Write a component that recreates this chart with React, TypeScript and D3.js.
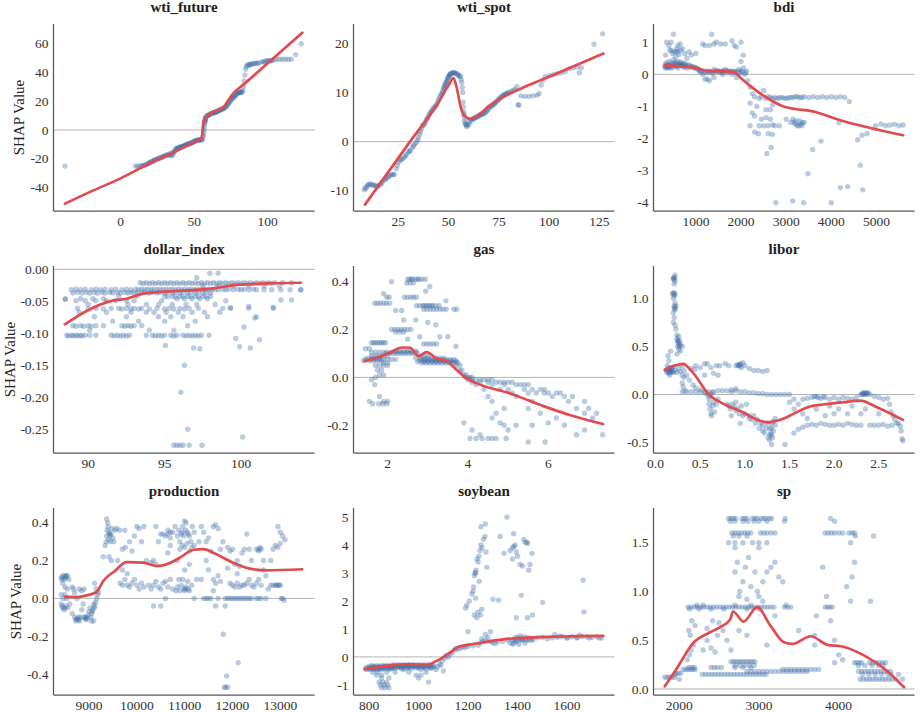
import * as d3 from 'd3';

type P = [number, number];
type Row = [number, number[]];

// ---- wti_future ----
const wtiFuturePts: P[] = [
  [-37.8, -25], [10, -25], [11.5, -25], [13, -25], [14.5, -24.8], [16, -24.5], [18, -23.5], [19, -23], [20, -22.5],
  [21, -22], [22, -21.5], [23, -21], [24, -20.5], [25, -20], [26, -19.8], [27, -19.2], [28, -18.8], [29, -18.5],
  [30, -18], [31, -17.5], [32, -17.2], [33, -17.5], [34, -16.8], [35, -16], [35.5, -17.5], [36, -15.5], [37, -14],
  [37.5, -13], [38, -13.5], [39, -12.5], [40, -12], [41, -11.8], [42, -11.5], [43, -11], [44, -10.5], [45, -10],
  [46, -9.8], [47, -9.5], [48, -9], [49, -8.5], [50, -8], [51, -7.5], [52, -7], [53, -7.2], [54, -6.8], [55, -6.5],
  [55.5, -7], [56, -5], [56.5, -2], [56.8, 2], [57, 4], [57.2, 5.5], [57.5, 7], [57.8, 8], [58, 9], [59, 10],
  [60, 10.5], [61, 11], [62, 11.5], [63, 12], [64, 12], [65, 12.5], [66, 13], [67, 13.5], [68, 14], [69, 14.5],
  [70, 15], [71, 15.5], [72, 16.5], [73, 18], [74, 19.5], [75, 21], [76, 22], [77, 23], [78, 24], [79, 25],
  [80, 26], [81, 26.5], [82, 26], [83, 27], [83.5, 30], [84, 34], [84.5, 38], [85, 42], [85.5, 44], [86, 45],
  [87, 45], [88, 45.5], [89, 45.5], [90, 46], [92, 46], [94, 46.5], [96, 47], [98, 47.5], [100, 48], [102, 48],
  [104, 48.5], [106, 49], [108, 49], [110, 49], [112, 49], [114, 49], [116, 49], [119, 52.2], [122.8, 59.8],
];
const wtiFutureDense: P[] = [
  [15, -24.6], [17, -24], [19.5, -22.8], [21.5, -21.8], [23.5, -20.8], [25.5, -19.9], [27.5, -19], [29.5, -18.2],
  [31.5, -17.4], [33.5, -16.5], [34.5, -17.8], [36.5, -15], [38.5, -13], [39.5, -12.2], [40.5, -12], [41.5, -11.5],
  [42.5, -11.2], [43.5, -10.8], [44.5, -10.3], [45.5, -9.9], [46.5, -9.6], [47.5, -9.2], [48.5, -8.8],
  [49.5, -8.2], [50.5, -7.8], [51.5, -7.2], [52.5, -7], [53.5, -6.9], [54.5, -6.6], [56.2, -4], [56.6, 0],
  [57.1, 5], [57.4, 6.5], [57.6, 8], [58.5, 9.5], [59.5, 10], [60.5, 10.8], [61.5, 11.2], [62.5, 11.8],
  [63.5, 12], [64.5, 12.3], [65.5, 12.8], [66.5, 13.2], [67.5, 13.8], [68.5, 14.2], [69.5, 14.8], [70.5, 15.2],
  [71.5, 16], [72.5, 17.5], [73.5, 18.5], [74.5, 20], [75.5, 21.5], [76.5, 22.5], [77.5, 23.5], [78.5, 24.5],
  [79.5, 25.5], [80.5, 26], [81.5, 25.8], [82.5, 26.5], [88, 45], [91, 46], [93, 46.2], [97, 47.2], [99, 47.8],
  [101, 48], [103, 48.3],
];
const wtiFutureLine: P[] = [
  [-37.8, -51], [-20, -42.5], [0, -33.5], [20, -23], [35, -16], [45, -11], [50, -8.5], [55, -6], [56.5, 6],
  [60, 10.5], [70, 16], [76.4, 25.2], [84.3, 32.1], [100, 46.2], [123.5, 67.4],
];

// ---- wti_spot ----
const wtiSpotPts: P[] = [
  [8, -9.8], [8.5, -9.3], [9, -9.6], [9.5, -9], [10, -8.8], [11, -8.6], [12, -8.8], [13, -8.9], [14, -9.1],
  [15, -9], [16, -8.7], [17, -8.2], [18, -7.8], [19, -7.5], [20, -7.2], [21, -6.8], [22, -6.6], [23, -6.7],
  [24, -5.5], [25, -4.2], [26, -3.8], [27, -3.5], [28, -3.2], [29, -2.6], [30, -2.1], [31, -1.8], [32, -1.2],
  [33, -0.6], [34, -0.2], [35, 0.8], [36, 2], [37, 3.2], [38, 3.6], [39, 4.5], [40, 5.2], [41, 6], [42, 6.5],
  [43, 7], [44, 7.5], [45, 8.5], [46, 9.4], [47, 10], [47.5, 10.8], [48, 11.2], [48.5, 11.8], [49, 12.2],
  [49.5, 12.8], [50, 13.2], [50.5, 13.6], [51, 13.8], [52, 14], [53, 14], [54, 13.8], [55, 13.5], [56, 13.2],
  [56.5, 12], [57, 10], [57.2, 8], [57.5, 6], [57.8, 5], [58, 4.2], [58.5, 3.5], [59, 3], [60, 3.5], [61, 4.5],
  [62, 4.6], [63, 4.8], [64, 5], [65, 5.2], [66, 5.5], [67, 5.6], [68, 5.8], [69, 6.2], [70, 6.8], [71, 7.2],
  [72, 7.5], [73, 7.8], [74, 8.2], [75, 8.6], [76, 9], [77, 9.4], [78, 9.6], [79, 9.8], [80, 10], [81, 10.2],
  [82, 10.4], [83, 10.6], [84, 11.2], [84.5, 7.5], [85, 7.4], [86, 9.3], [88, 9.2], [90, 9.2], [92, 9.3],
  [94, 9.4], [95, 9.8], [96, 11.5], [97, 12.5], [98, 13.2], [100, 13.4], [102, 13.6], [104, 13.8], [106, 14],
  [108, 14.2], [110, 14.8], [112, 15], [114, 15.2], [115, 14], [116, 15], [122.3, 19.8], [126.6, 21.9],
];
const wtiSpotDense: P[] = [
  [10.5, -8.7], [12.5, -8.8], [14.5, -9], [16.5, -8.5], [18.5, -7.6], [20.5, -7], [22.5, -6.7], [24.5, -4.8],
  [26.5, -3.6], [28.5, -2.9], [30.5, -2], [32.5, -0.9], [34.5, 0.3], [35.5, 1.5], [36.5, 2.6], [37.5, 3.4],
  [38.5, 4], [39.5, 4.8], [40.5, 5.6], [41.5, 6.2], [42.5, 6.8], [43.5, 7.2], [44.5, 8], [45.5, 9], [46.5, 9.7],
  [47.2, 10.4], [47.8, 11], [48.2, 11.5], [48.8, 12], [49.2, 12.5], [49.8, 13], [50.2, 13.4], [50.8, 13.7],
  [51.5, 13.9], [52.5, 14], [53.5, 13.9], [54.5, 13.6], [55.5, 13.3], [56.2, 12.6], [56.8, 11], [57.3, 7],
  [57.6, 5.5], [58.2, 3.8], [58.8, 3.3], [59.5, 3.4], [60.5, 4], [61.5, 4.4], [62.5, 4.7], [63.5, 4.9],
  [64.5, 5.1], [65.5, 5.3], [66.5, 5.5], [67.5, 5.7], [68.5, 6], [69.5, 6.5], [70.5, 7], [71.5, 7.3], [72.5, 7.6],
  [73.5, 8], [74.5, 8.4], [75.5, 8.8], [76.5, 9.2], [77.5, 9.5], [78.5, 9.7], [79.5, 9.9],
];
const wtiSpotLine: P[] = [
  [8.4, -12.8], [30.8, 0], [45, 8], [50, 11.5], [52.4, 12.9], [54, 11], [56, 7], [58, 5.2], [61, 4.6],
  [66, 5.8], [70, 7.2], [76, 8.8], [90, 11.5], [100, 13.2], [127, 17.9],
];

// ---- bdi ----
const bdiPts: P[] = [
  [320, 0.2], [350, 0.3], [400, 0.22], [450, 0.35], [500, 0.3], [550, 0.25], [600, 0.4], [650, 0.3], [700, 0.25],
  [750, 0.35], [800, 0.2], [850, 0.3], [900, 0.25], [950, 0.2], [330, 0.35], [500, 0.45], [400, 0.4], [600, 0.2],
  [700, 0.35], [1000, 0.2], [1050, 0.15], [360, 0.25], [450, 0.2], [550, 0.38],
  [330, 0.6], [350, 1.0], [400, 0.9], [450, 1.0], [500, 1.25], [420, 0.75], [520, 0.7], [600, 0.7], [650, 0.95],
  [700, 0.8], [750, 0.65], [800, 0.5], [550, 0.55], [600, 0.9], [850, 0.7], [900, 0.6], [1000, 0.65], [1150, 0.95],
  [1200, 0.9], [1350, 1.25], [1400, 0.95], [1450, 1.0], [1550, 0.95], [1650, 0.95], [1800, 1.05], [1900, 0.85],
  [2000, 1.0], [1850, 0.9], [2050, 0.6], [1300, 0.9],
  [1100, 0.1], [1150, 0.0], [1200, -0.15], [1250, 0.1], [1300, -0.2], [1350, 0.05], [1400, 0.15], [1450, 0.1],
  [1500, 0.1], [1550, 0.05], [1600, 0.1], [1650, 0.15], [1700, 0.05], [1750, 0.1], [1800, 0.0], [1850, 0.1],
  [1900, -0.1], [1950, 0.15], [2000, 0.05], [2050, 0.2], [2100, 0.05], [2000, 0.4], [1250, -0.15], [1400, -0.1],
  [1600, 0.0],
  [2150, -0.2], [2200, -0.4], [2250, -0.6], [2200, -0.9], [2300, -0.7], [2250, -1.2], [2300, -1.3], [2350, -1.0],
  [2200, -1.6], [2400, -0.75], [2300, -1.8], [2450, -0.7], [2450, -1.4], [2500, -0.5],
  [2550, -0.75], [2600, -0.7], [2700, -0.75], [2800, -0.75], [2900, -0.72], [3000, -0.75], [3100, -0.72],
  [3200, -0.7], [3300, -0.72], [3400, -0.7], [3500, -0.72], [3600, -0.7], [3700, -0.72], [3800, -0.7],
  [3900, -0.72], [4000, -0.7], [4100, -0.72], [4200, -0.7], [4300, -0.72], [4400, -0.85], [2550, -1.1],
  [2650, -1.1], [2700, -0.95],
  [2400, -1.6], [2500, -1.6], [2600, -1.6], [2700, -1.58], [2750, -1.6], [2850, -1.6], [3000, -1.4], [3100, -1.5],
  [3150, -1.4], [3200, -1.55], [3250, -1.6], [3300, -1.45], [3350, -1.6], [3400, -1.5], [2550, -1.35],
  [2650, -1.4], [4170, -1.5], [4980, -1.6], [5100, -1.55], [5200, -1.6], [5300, -1.58], [5400, -1.55],
  [5500, -1.6], [5590, -1.58],
  [2385, -1.85], [2600, -1.85], [2696, -1.87], [2571, -2.47], [2667, -2.28], [2771, -4.0], [3148, -3.95],
  [3385, -4.0], [3482, -3.1], [3585, -2.34], [3770, -2.08], [4000, -4.0], [4200, -3.53], [4363, -3.5],
  [4585, -2.04], [4681, -1.9], [4793, -1.85], [4644, -2.83], [4696, -3.6],
];
const bdiDense: P[] = [
  [310, 0.25], [340, 0.22], [370, 0.3], [380, 0.2], [420, 0.28], [440, 0.25], [470, 0.3], [490, 0.22], [520, 0.35],
  [540, 0.28], [570, 0.3], [590, 0.25], [620, 0.33], [640, 0.28], [660, 0.38], [680, 0.3], [720, 0.28], [740, 0.22],
  [760, 0.3], [780, 0.26], [820, 0.28], [870, 0.22], [920, 0.25], [970, 0.22], [1020, 0.18], [1080, 0.1],
  [1120, 0.08], [1180, 0.1], [1220, 0.05], [1280, 0.08], [1320, 0.1], [1380, 0.05], [1420, 0.1], [1480, 0.12],
  [1520, 0.08], [1580, 0.1], [1620, 0.08], [1680, 0.12], [1720, 0.1], [1780, 0.08], [1820, 0.1], [1880, 0.05],
  [1920, 0.1], [1980, 0.08], [2020, 0.1], [2080, 0.0], [2120, 0.1], [460, 0.75], [480, 0.65], [560, 0.72],
  [580, 0.8], [620, 0.62], [660, 0.75], [2650, -0.72], [2750, -0.72], [2850, -0.73], [2950, -0.74], [3050, -0.73],
  [3150, -0.72], [3250, -0.7], [3350, -0.72], [3180, -1.5], [3220, -1.45], [3280, -1.6], [3320, -1.55], [3360, -1.5],
];
const bdiLine: P[] = [
  [311, 0.29], [700, 0.24], [1015, 0.2], [1274, 0.1], [1600, 0.1], [1830, 0.08], [2000, -0.12], [2200, -0.36],
  [2571, -0.73], [2978, -1.02], [3200, -1.08], [3533, -1.14], [4274, -1.46], [5593, -1.9],
];

// ---- dollar_index ----
const dollarRows: Row[] = [
  [-0.021, [93.4, 93.8, 94.2, 94.6, 95.0, 95.4, 95.8, 96.2, 96.6, 97.0, 97.4, 97.8, 98.2, 98.6, 99.0, 99.4, 99.8, 100.2, 100.6, 101.0, 101.4, 101.8, 102.2, 102.7, 103.3]],
  [-0.022, [93.6, 94.0, 94.4, 94.8, 95.2, 95.6, 96.0, 96.4, 96.8, 97.2, 97.6, 98.0, 98.4, 98.8, 99.2, 99.6, 100.0, 100.4, 100.8, 101.2, 101.6, 102.0]],
  [-0.026, [97.5, 98.5, 99.5, 100.5, 101.5, 102.5]],
  [-0.031, [89.2, 89.8, 90.5, 91.1, 91.8, 92.5, 93.1, 93.5, 93.9, 94.3, 94.7, 95.1, 95.5, 95.9, 96.3, 96.7, 97.1, 97.5, 97.9, 98.3, 98.8, 99.2, 99.8, 100.2, 100.8]],
  [-0.032, [88.9, 89.5, 90.2, 90.8, 91.5, 92.2, 92.8, 93.3, 93.7, 94.1, 94.5, 94.9, 95.3, 95.7, 96.1, 96.5, 96.9, 97.3, 97.7, 98.1, 98.5, 99.0, 99.5, 100.0, 100.5, 101.0, 101.5, 102.0, 102.6, 103.2, 103.9]],
  [-0.036, [89.3, 89.9, 90.4, 90.9, 91.4, 91.9, 92.4, 92.8, 93.2, 93.7, 94.2, 94.7, 95.2, 95.7, 96.2, 96.7, 97.2, 97.7]],
  [-0.037, [89.0, 89.6, 90.1, 90.6, 91.1, 91.6, 92.1, 92.6, 93.0, 93.5, 94.0, 94.5, 95.0, 95.5, 96.0, 96.5, 97.0, 97.5, 98.0]],
  [-0.042, [92.0, 93.2, 95.0, 95.5, 96.0, 96.5, 97.0, 97.5, 98.0]],
  [-0.043, [95.2, 95.7, 96.2, 96.7, 97.2, 97.7]],
  [-0.046, [88.5, 89.5, 90.3, 91.0, 95.8, 96.3, 96.8, 97.3, 97.8]],
  [-0.049, [89.2, 89.8, 90.5, 91.2, 91.8, 92.5, 93.0, 94.8, 99.0]],
  [-0.055, [90.0, 92.6, 93.8, 94.6, 95.5, 96.4, 97.1, 98.3]],
  [-0.061, [89.3, 90.5, 91.5, 92.0, 92.5, 93.0, 93.5, 94.5, 95.3, 96.0, 96.6, 97.2, 98.8, 99.3, 100.5, 102.1]],
  [-0.062, [90.0, 91.0, 92.2, 92.8, 93.3, 94.0, 95.0, 95.6, 96.3]],
  [-0.067, [89.4, 91.2, 92.8, 93.8, 94.3, 95.1, 95.9, 96.8, 97.6, 98.6]],
  [-0.074, [90.4, 92.5, 94.6, 95.4, 96.2, 97.8, 101.0]],
  [-0.081, [91.6, 93.3, 95.0, 97.0]],
  [-0.088, [89.0, 89.5, 90.0, 90.5, 91.0, 92.2, 92.6, 93.0, 93.5, 96.5]],
  [-0.089, [89.2, 89.7, 90.2, 92.4, 92.8]],
  [-0.095, [90.1, 94.0, 95.6]],
  [-0.103, [88.6, 88.9, 89.2, 89.5, 89.8, 90.1, 90.5, 91.5, 91.9, 92.3, 92.7, 93.8, 94.2, 94.6, 95.0, 95.4, 95.8, 96.2, 96.6, 97.0, 97.4, 97.9]],
  [-0.104, [88.7, 89.0, 89.3, 89.6, 91.7, 92.1, 92.5, 94.4, 94.8, 95.6, 96.4, 96.8, 97.2]],
  [-0.275, [95.6, 95.8, 96.0, 96.2, 96.6, 97.45]],
];
const dollarPts: P[] = [
  [95.05, -0.119], [96.3, -0.15], [96.06, -0.192], [96.5, -0.25], [100.1, -0.262], [96.9, -0.123], [97.3, -0.124],
  [99.9, -0.121], [100.6, -0.123], [101.2, -0.11], [99.65, -0.108], [100.2, -0.09], [100.9, -0.076],
  [102.1, -0.059], [102.6, -0.048], [103.3, -0.048], [100.5, -0.058], [99.3, -0.06], [97.95, -0.006],
  [98.5, -0.006], [97.1, -0.013], [88.5, -0.047], [103.9, -0.032],
];
const dollarLine: P[] = [
  [88.47, -0.086], [89.9, -0.065], [91.6, -0.049], [92.5, -0.046], [93.6, -0.038], [95.6, -0.034],
  [97.7, -0.031], [99.9, -0.024], [101.7, -0.022], [103.9, -0.021],
];

// ---- gas ----
const gasRows: Row[] = [
  [0.41, [2.5, 2.55, 2.6, 2.62, 2.7, 2.75, 2.78, 2.86, 2.94]],
  [0.395, [2.48, 2.56, 2.64]],
  [0.335, [1.98, 2.04, 2.42, 2.5, 2.58, 2.65, 2.72]],
  [0.31, [1.68, 1.75, 1.82, 1.9, 1.97, 2.05]],
  [0.3, [2.72, 2.8, 2.88, 2.9, 2.96, 3.0, 3.04, 3.1, 3.12, 3.2, 3.28]],
  [0.285, [2.9, 2.98, 3.06, 3.14, 3.22, 3.3, 3.38, 3.46, 3.65, 3.72]],
  [0.2, [2.1, 2.18, 2.26, 2.34, 2.42, 2.5, 2.58]],
  [0.19, [2.2, 2.3, 2.4]],
  [0.145, [1.6, 1.65, 1.7, 1.75, 1.8, 1.85, 1.9, 1.95]],
  [0.14, [2.9, 2.98, 3.06, 3.14, 3.22]],
  [0.12, [1.45, 1.55]],
  [0.11, [2.2, 2.3, 2.4, 2.5, 2.6, 2.7]],
  [0.105, [1.6, 1.7, 1.8, 1.9, 2.0, 2.1, 2.2, 2.3, 2.4, 2.5, 2.6, 2.7]],
  [0.1, [1.95, 2.05, 2.15, 2.25, 2.35, 2.45, 2.55, 2.65, 2.75]],
  [0.09, [1.6, 1.7, 1.8, 1.9, 2.0, 2.9, 3.0]],
  [0.08, [1.5, 1.6, 1.7, 1.8, 2.7, 2.8, 2.9, 3.0, 3.1, 3.2, 3.3, 3.4]],
  [0.075, [1.45, 1.6, 1.7, 1.8, 1.9, 2.0, 2.1, 2.2, 2.85, 2.95, 3.05, 3.15, 3.25, 3.35, 3.45, 3.55, 3.65]],
  [0.07, [1.4, 1.55, 1.65, 1.75, 1.85, 2.8, 2.9, 3.0, 3.1, 3.2, 3.3, 3.4, 3.5, 3.6, 3.7]],
  [0.065, [2.75, 2.9, 3.0, 3.1, 3.2, 3.3, 3.4, 3.5, 3.6, 3.7]],
  [0.06, [1.9, 2.0, 2.85, 2.95, 3.05, 3.15, 3.25, 3.35, 3.45, 3.55, 3.65, 3.75]],
  [0.05, [1.7, 1.8, 1.9, 2.0, 3.7, 3.8]],
  [0.03, [1.75, 1.85, 3.8, 3.85]],
  [0.01, [1.8, 1.9, 3.9, 3.95]],
  [0.0, [1.7, 3.95, 4.0, 4.05, 4.1]],
  [-0.01, [1.6, 4.0, 4.1, 4.2, 4.3, 4.4, 4.5, 4.6]],
  [-0.02, [4.1, 4.3, 4.5, 4.7, 4.8, 4.9, 5.0, 5.1]],
  [-0.03, [1.68, 4.2, 4.6, 4.9, 5.2, 5.3, 5.4, 5.5]],
  [-0.05, [4.4, 4.8, 5.0, 5.4, 5.6, 5.8, 5.9]],
  [-0.065, [5.1, 5.5, 5.7, 5.9, 6.0, 6.2, 6.3]],
  [-0.08, [1.8, 4.5, 5.2, 6.1, 6.4, 6.6]],
  [-0.1, [1.55, 1.9, 2.0, 4.6, 5.6, 6.5, 6.9]],
  [-0.11, [1.63, 1.78, 1.88, 1.98]],
  [-0.13, [4.9, 5.5, 6.7, 7.0]],
  [-0.15, [4.7, 5.8, 6.9, 7.2]],
  [-0.17, [4.6, 6.2, 7.1]],
  [-0.19, [3.9, 4.8, 6.0]],
  [-0.2, [4.9, 5.2, 5.6, 6.4]],
  [-0.22, [4.1, 5.0, 6.9]],
  [-0.24, [4.3, 6.7, 7.35]],
  [-0.255, [4.05, 4.2, 4.35, 4.5, 4.6, 4.7, 4.95]],
  [-0.27, [5.5, 5.92]],
];
const gasPts: P[] = [
  [2.4, 0.24], [2.7, 0.24], [3.0, 0.23], [3.2, 0.22], [3.3, 0.17], [3.5, 0.17], [2.95, 0.36], [3.05, 0.38],
  [2.35, 0.28], [2.2, 0.28], [1.9, 0.35], [2.1, 0.4], [3.45, 0.32], [3.7, 0.13], [2.5, 0.16], [2.8, 0.17],
];
const gasLine: P[] = [
  [1.43, 0.068], [1.73, 0.082], [2.06, 0.103], [2.35, 0.125], [2.56, 0.124], [2.77, 0.089], [2.97, 0.106],
  [3.22, 0.079], [3.47, 0.068], [3.72, 0.031], [3.93, 0.0], [4.22, -0.025], [5.05, -0.067], [5.88, -0.12],
  [6.53, -0.157], [7.36, -0.195],
];

// ---- libor ----
const liborPts: P[] = [
  [0.2, 1.2], [0.21, 1.22], [0.22, 1.18], [0.21, 1.15], [0.2, 1.05], [0.21, 1.03], [0.2, 1.0], [0.22, 0.95],
  [0.21, 0.9], [0.22, 0.88], [0.2, 0.85], [0.21, 0.8], [0.2, 0.75], [0.22, 0.72], [0.23, 0.68], [0.24, 0.62],
  [0.24, 0.58], [0.25, 0.56], [0.26, 0.54], [0.27, 0.5], [0.25, 0.5], [0.26, 0.47], [0.28, 0.45], [0.24, 0.42],
  [0.28, 0.52], [0.3, 0.5], [0.26, 0.6], [0.22, 1.24], [0.19, 1.05], [0.23, 0.92],
  [0.12, 0.25], [0.13, 0.23], [0.14, 0.27], [0.15, 0.24], [0.16, 0.28], [0.17, 0.23], [0.18, 0.26], [0.19, 0.24],
  [0.2, 0.29], [0.22, 0.25], [0.24, 0.23], [0.26, 0.27], [0.28, 0.24], [0.13, 0.3], [0.15, 0.35], [0.17, 0.45],
  [0.14, 0.4], [0.16, 0.2], [0.3, 0.2],
  [0.32, 0.18], [0.3, 0.12], [0.31, 0.08], [0.33, 0.04], [0.35, 0.03], [0.4, 0.03], [0.45, 0.03], [0.5, 0.03],
  [0.55, 0.03], [0.6, 0.03], [0.65, 0.03], [0.7, 0.04], [0.75, 0.04], [0.8, 0.04], [0.85, 0.03], [0.9, 0.04],
  [0.95, 0.03], [1.0, 0.03], [1.05, 0.02], [1.1, 0.02], [1.15, 0.01], [1.2, 0.01], [1.25, 0.0], [1.3, 0.0],
  [1.35, 0.0], [1.4, 0.0], [1.45, 0.0], [1.5, 0.0], [0.85, 0.05], [0.9, 0.06],
  [0.4, 0.27], [0.45, 0.3], [0.5, 0.28], [0.55, 0.32], [0.58, 0.32], [0.62, 0.28], [0.68, 0.3], [0.72, 0.3],
  [0.78, 0.32], [0.82, 0.3], [0.9, 0.3], [0.92, 0.31], [0.94, 0.3], [0.95, 0.32], [0.96, 0.28], [0.98, 0.33],
  [1.0, 0.3], [1.05, 0.27], [1.1, 0.25], [1.15, 0.25], [1.2, 0.24], [1.25, 0.25], [0.44, 0.26], [0.65, 0.22],
  [0.55, 0.2], [0.7, 0.2],
  [0.3, 0.3], [0.32, 0.25], [0.35, 0.2], [0.38, 0.15], [0.42, 0.1], [0.45, 0.07], [0.5, 0.05], [0.55, 0.02],
  [0.58, 0.0], [0.6, -0.02],
  [0.6, -0.05], [0.6, -0.1], [0.61, -0.15], [0.62, -0.2], [0.63, -0.22], [0.64, -0.12], [0.65, -0.08],
  [0.66, -0.18], [0.68, -0.1], [0.7, -0.05], [0.62, 0.0], [0.64, 0.02],
  [0.8, -0.1], [0.82, -0.12], [0.84, -0.15], [0.86, -0.1], [0.88, -0.13], [0.9, -0.08], [0.9, -0.17],
  [0.92, -0.15], [0.94, -0.2], [0.96, -0.12], [0.98, -0.22], [1.0, -0.2], [1.02, -0.1], [1.05, -0.25],
  [0.85, -0.22], [0.95, -0.3],
  [1.05, -0.22], [1.08, -0.26], [1.1, -0.22], [1.12, -0.3], [1.14, -0.26], [1.16, -0.35], [1.18, -0.3],
  [1.2, -0.38], [1.22, -0.4], [1.24, -0.35], [1.26, -0.45], [1.28, -0.47], [1.28, -0.42], [1.3, -0.35],
  [1.3, -0.3], [1.32, -0.38], [1.32, -0.28], [1.34, -0.32], [1.34, -0.25], [1.3, -0.52], [1.25, -0.3], [1.2, -0.32],
  [1.5, -0.08], [1.55, -0.05], [1.6, -0.1], [1.65, -0.05], [1.7, -0.04], [1.75, -0.03], [1.8, -0.02],
  [1.85, -0.04], [1.9, -0.03], [1.95, -0.05], [2.0, -0.03], [2.05, -0.05], [2.1, -0.03], [2.15, -0.04],
  [2.2, -0.05], [2.25, -0.03], [2.3, 0.0], [2.32, 0.02], [2.34, 0.01], [2.36, 0.0], [2.38, 0.02], [2.4, 0.0],
  [2.45, -0.02], [2.5, -0.03], [2.55, -0.05], [2.6, -0.04],
  [1.6, -0.36], [1.65, -0.34], [1.7, -0.32], [1.75, -0.31], [1.8, -0.32], [1.85, -0.3], [1.9, -0.31],
  [1.95, -0.32], [2.0, -0.32], [2.05, -0.31], [2.1, -0.32], [2.15, -0.3], [2.2, -0.31], [2.25, -0.32],
  [2.3, -0.32], [2.4, -0.32], [2.45, -0.32], [2.5, -0.32], [2.55, -0.31], [2.6, -0.33], [2.65, -0.32],
  [2.5, -0.2], [1.55, -0.15], [1.65, -0.2], [1.7, -0.25], [1.8, -0.15], [1.9, -0.22], [1.95, -0.12],
  [2.0, -0.2], [2.05, -0.15], [2.15, -0.2], [2.2, -0.12], [2.3, -0.2], [2.35, -0.15], [1.55, -0.4], [1.45, -0.52],
  [2.62, -0.1], [2.64, -0.18], [2.66, -0.22], [2.68, -0.26], [2.7, -0.3], [2.72, -0.3], [2.74, -0.33],
  [2.75, -0.38], [2.76, -0.46], [2.77, -0.48],
];
const liborDense: P[] = [
  [0.21, 1.2], [0.2, 1.21], [0.22, 1.04], [0.21, 1.06], [0.21, 0.92], [0.22, 0.9], [0.25, 0.55], [0.26, 0.52],
  [0.27, 0.56], [0.14, 0.25], [0.16, 0.26], [0.18, 0.24], [0.2, 0.23], [0.15, 0.22], [0.17, 0.27], [0.19, 0.28],
  [0.3, 0.03], [0.93, 0.3], [0.95, 0.31], [1.29, -0.4], [1.31, -0.45], [1.28, -0.35], [1.3, -0.42], [2.33, 0.01],
  [2.35, 0.02], [2.37, 0.01], [2.31, 0.0], [2.34, 0.0], [1.78, -0.02], [1.82, -0.03], [1.88, -0.02],
];
const liborLine: P[] = [
  [0.105, 0.257], [0.217, 0.302], [0.31, 0.319], [0.404, 0.243], [0.61, -0.01], [0.76, -0.097], [0.98, -0.184],
  [1.13, -0.26], [1.265, -0.288], [1.43, -0.253], [1.58, -0.184], [1.73, -0.125], [1.88, -0.104], [2.11, -0.08],
  [2.29, -0.063], [2.48, -0.132], [2.77, -0.264],
];

// ---- production ----
const productionPts: P[] = [
  [8420, 0.11], [8450, 0.12], [8480, 0.1], [8500, 0.12], [8520, 0.11], [8550, 0.12], [8580, 0.1], [8450, 0.08],
  [8500, 0.06], [8420, 0.02], [8460, 0.0], [8500, 0.02], [8540, 0.0], [8420, -0.03], [8450, -0.05], [8480, -0.06],
  [8520, -0.04], [8560, -0.05], [8600, -0.03], [8550, 0.05],
  [8650, 0.06], [8680, 0.05], [8700, -0.1], [8720, -0.12], [8750, -0.11], [8780, -0.1], [8800, -0.12],
  [8830, -0.1], [8700, 0.03], [8750, 0.0], [8800, 0.05], [8850, 0.04], [8880, -0.03], [8900, -0.1],
  [8930, -0.11], [8960, -0.1], [8980, -0.09], [8900, 0.05], [8650, -0.08], [8850, -0.06],
  [9000, -0.07], [9020, -0.05], [9040, -0.1], [9060, -0.08], [9080, -0.06], [9100, -0.03], [9120, -0.04],
  [9140, -0.02], [9160, 0.0], [9180, 0.02], [9100, -0.12], [9050, -0.12], [9150, 0.05], [9200, 0.03], [9120, 0.08],
  [9340, 0.28], [9360, 0.3], [9370, 0.42], [9390, 0.4], [9400, 0.38], [9420, 0.35], [9440, 0.33], [9460, 0.34],
  [9480, 0.37], [9500, 0.32], [9520, 0.3], [9540, 0.36], [9580, 0.37], [9640, 0.36], [9700, 0.26], [9760, 0.27],
  [9370, 0.33], [9410, 0.31], [9470, 0.2], [9420, 0.22], [9300, 0.22],
  [9650, 0.08], [9700, 0.07], [9750, 0.1], [9800, 0.07], [9850, 0.06], [9900, 0.08], [9950, 0.1], [10000, 0.07],
  [10050, 0.05], [10100, 0.08], [10150, 0.06], [9700, 0.15], [9800, 0.13], [9950, 0.33], [10000, 0.38],
  [10050, 0.37], [10150, 0.38], [10100, 0.3], [9850, 0.3], [9900, 0.25], [10200, 0.2], [9750, 0.36], [9600, 0.2],
  [10250, 0.07], [10300, 0.05], [10350, 0.07], [10400, 0.09], [10450, 0.06], [10500, 0.05], [10550, 0.08],
  [10600, 0.09], [10650, 0.06], [10700, 0.1], [10750, 0.05], [10300, 0.19], [10350, 0.2], [10400, 0.18],
  [10500, 0.34], [10550, 0.34], [10600, 0.33], [10650, 0.36], [10700, 0.32], [10750, 0.35], [10800, 0.38],
  [10400, 0.38], [10450, 0.3], [10600, 0.0], [10500, -0.04], [10350, -0.04], [10650, 0.24], [10700, 0.28],
  [10820, 0.04], [10850, 0.06], [10880, 0.1], [10900, 0.04], [10930, 0.07], [10960, 0.1], [11000, 0.04],
  [11030, 0.06], [11060, 0.09], [11100, 0.04], [11150, 0.07], [10850, 0.33], [10880, 0.36], [10900, 0.3],
  [10930, 0.34], [10960, 0.38], [11000, 0.41], [11030, 0.4], [11060, 0.35], [11100, 0.33], [11130, 0.3],
  [11160, 0.38], [11200, 0.35], [10900, 0.26], [10950, 0.28], [11000, 0.27], [11050, 0.29], [11100, 0.25],
  [11150, 0.27], [11200, 0.28], [10850, 0.2], [11200, 0.0], [11250, 0.1], [11300, 0.3], [11000, 0.15], [11100, 0.18],
  [11350, 0.38], [11400, 0.35], [11450, 0.3], [11500, 0.32], [11550, 0.25], [11600, 0.38], [11650, 0.39],
  [11700, 0.37], [11400, 0.0], [11450, 0.0], [11500, 0.0], [11550, 0.0], [11600, 0.1], [11650, 0.08],
  [11700, 0.12], [11750, 0.09], [11600, 0.04], [11450, 0.2], [11350, 0.1], [11500, 0.15], [11800, 0.3],
  [11750, 0.26], [11700, 0.0], [11650, -0.04], [11850, -0.04],
  [11810, -0.19], [11830, -0.47], [11860, -0.47], [11900, -0.47], [11880, -0.41], [12120, -0.34],
  [11850, 0.0], [11900, 0.0], [11950, 0.0], [12000, 0.0], [12050, 0.0], [12100, 0.0], [12150, 0.0], [11900, 0.27],
  [11950, 0.25], [12000, 0.26], [11950, 0.08], [12000, 0.07], [12050, 0.06], [12100, 0.08], [12150, 0.06],
  [12200, 0.07], [12050, 0.18], [12100, 0.2], [12150, 0.17], [12200, 0.24], [12250, 0.26], [12300, 0.34],
  [12350, 0.26], [12400, 0.2], [12250, 0.07], [12300, 0.08], [12350, 0.1], [12400, 0.07], [12450, 0.06],
  [12200, 0.0], [12250, 0.0], [12300, 0.0], [12350, 0.0], [12400, 0.0], [12100, 0.13], [11900, 0.16],
  [12500, 0.26], [12550, 0.26], [12600, 0.26], [12650, 0.2], [12500, 0.08], [12550, 0.1], [12600, 0.07],
  [12500, 0.0], [12550, 0.0], [12600, 0.0], [12700, 0.0], [12650, 0.15], [12750, 0.05], [12800, 0.07],
  [12850, 0.07], [12900, 0.07], [12950, 0.07], [13000, 0.07], [12850, 0.26], [12900, 0.28], [12950, 0.27],
  [13000, 0.29], [13050, 0.33], [13100, 0.31], [13000, 0.35], [12950, 0.38], [13050, 0.0], [13080, -0.01],
  [13020, 0.0], [12800, 0.2], [12700, 0.12],
];
const productionDense: P[] = [
  [8430, 0.1], [8470, 0.11], [8530, 0.12], [8440, -0.04], [8500, -0.05], [8740, -0.11], [8790, -0.11], [8920, -0.1],
  [8950, -0.11], [9070, -0.07], [9110, -0.05], [9380, 0.36], [9430, 0.34], [9450, 0.3], [10950, 0.35],
  [10980, 0.33], [11020, 0.36], [11070, 0.34], [10980, 0.05], [11020, 0.05], [11080, 0.05], [12550, 0.25],
  [12580, 0.27], [12920, 0.07], [12980, 0.07], [10650, 0.34], [10700, 0.35],
];
const productionLine: P[] = [
  [8499, 0.009], [8743, 0.007], [8951, 0.016], [9160, 0.034], [9299, 0.092], [9543, 0.145], [9786, 0.192],
  [10134, 0.189], [10412, 0.171], [10621, 0.18], [10899, 0.215], [11177, 0.256], [11386, 0.26], [11664, 0.233],
  [12012, 0.189], [12360, 0.157], [12708, 0.148], [13459, 0.154],
];

// ---- soybean ----
const soybeanRows: Row[] = [
  [-0.28, [900, 920, 940, 960, 980, 1000, 1020, 1040]],
  [-0.3, [810, 830, 850, 870, 890, 910, 930, 950, 970, 990, 1010, 1030, 1050]],
  [-0.32, [860, 880, 900, 920, 940, 960, 980, 1000, 1020, 1040, 1060]],
  [-0.34, [800, 820, 840, 860, 880, 900, 920, 940, 960, 980, 1000, 1020, 1040]],
  [-0.36, [820, 840, 860, 880, 900, 920, 940, 960, 980, 1000, 1020, 1040, 1060]],
  [-0.38, [790, 810, 830, 850, 870, 890, 910, 930, 960, 990, 1020, 1050]],
  [-0.4, [800, 815, 830, 845, 860, 875, 890, 905, 950, 1000, 1050]],
  [-0.42, [785, 800, 820, 840, 860, 890, 930, 970, 1030]],
  [-0.45, [790, 805, 820, 835, 850, 880, 940, 1010, 1070]],
  [-0.55, [815, 835, 870, 905, 960, 1030]],
  [-0.65, [830, 850, 990, 1010]],
  [-0.75, [850, 880, 1000]],
  [-0.9, [840, 855, 870, 1040]],
  [-1.0, [845, 860, 875]],
  [-1.1, [850, 865, 880]],
  [0.6, [1380, 1400, 1420, 1440, 1460]],
  [0.68, [1600, 1640, 1690, 1730]],
];
const soybeanPts: P[] = [
  [1075, -0.35], [1085, -0.25], [1095, -0.15], [1105, -0.05], [1110, 0.05], [1120, 0.0], [1125, 0.1], [1135, 0.15],
  [1145, 0.25], [1150, 0.3], [1160, 0.28], [1170, 0.32], [1180, 0.35], [1100, -0.5], [1090, -0.3],
  [1190, 0.35], [1200, 0.38], [1220, 0.4], [1240, 0.42], [1250, 0.5], [1260, 0.55], [1270, 0.6], [1280, 0.7],
  [1290, 0.55], [1300, 0.5], [1310, 0.48], [1320, 0.55], [1340, 0.55], [1360, 0.6], [1370, 0.5], [1380, 0.45],
  [1390, 0.6], [1400, 0.7], [1410, 0.75], [1420, 0.65], [1430, 0.5], [1440, 0.7], [1450, 0.6], [1460, 0.65],
  [1480, 0.68], [1500, 0.7], [1520, 0.65], [1540, 0.68], [1560, 0.7], [1580, 0.72], [1600, 0.68], [1620, 0.72],
  [1640, 0.7], [1660, 0.73], [1680, 0.72], [1700, 0.7], [1720, 0.72], [1740, 0.68], [1385, 0.5], [1395, 0.55],
  [1405, 0.45], [1415, 0.6], [1425, 0.72], [1435, 0.62], [1390, 0.7], [1410, 0.65], [1550, 0.8], [1570, 0.75],
  [1650, 0.78], [1255, 0.65], [1270, 0.8], [1290, 0.9], [1200, 0.9],
  [1190, 1.75], [1195, 1.85], [1205, 2.0], [1215, 2.25], [1220, 2.35], [1230, 2.1], [1225, 1.5], [1235, 1.4],
  [1240, 1.6], [1250, 1.5], [1255, 1.7], [1225, 2.9], [1228, 3.0], [1232, 3.1], [1236, 3.5], [1240, 3.4],
  [1244, 3.6], [1248, 3.8], [1252, 4.0], [1256, 3.9], [1262, 4.2], [1268, 4.3], [1272, 3.75], [1276, 3.2],
  [1270, 4.75], [1252, 4.65], [1230, 3.0], [1222, 2.5], [1245, 2.7], [1300, 2.06], [1323, 2.03],
  [1330, 4.3], [1345, 3.7], [1357, 5.0], [1370, 3.8], [1380, 3.9], [1385, 3.95], [1390, 4.0], [1395, 3.75],
  [1400, 3.6], [1384, 4.4], [1410, 3.3], [1420, 3.25], [1425, 4.2], [1430, 4.1], [1438, 4.1], [1440, 4.05],
  [1445, 3.1], [1450, 3.3], [1458, 3.7], [1380, 3.5], [1395, 1.4], [1440, 1.4], [1460, 1.5], [1415, 2.2],
  [1501, 1.95], [1665, 2.74], [1668, 1.61],
];
const soybeanLine: P[] = [
  [782, -0.44], [870, -0.32], [965, -0.26], [1032, -0.29], [1073, -0.14], [1127, 0.155], [1161, 0.36],
  [1235, 0.48], [1343, 0.63], [1438, 0.69], [1573, 0.73], [1746, 0.75],
];

// ---- sp ----
const spRows: Row[] = [
  [0.12, [1820, 1850, 1880, 1910, 1940]],
  [0.16, [1960, 1990, 2020]],
  [0.2, [2050, 2080, 2110, 2140, 2170, 2200]],
  [0.22, [2120, 2160, 2190, 2400, 2440, 2480, 2530, 2700, 2800, 2900]],
  [0.84, [2110, 2150, 2190, 2230, 2270, 2310, 2350, 2390, 2430, 2470, 2510, 2550, 2590, 2630, 2670, 2710, 2750, 2790, 2830, 2870, 2910, 2950, 2990, 3030, 3070, 3110, 3150, 3190, 3320, 3360, 3400, 3830, 3860, 3890, 3920]],
  [0.82, [2130, 2250, 2400, 2560, 2850, 3000]],
  [0.86, [2220, 2300, 2700, 2900, 3340]],
  [0.15, [2290, 2330, 2370, 2410, 2450, 2490, 2530, 2570, 2610, 2650, 2690, 2730, 2770, 2810, 2850, 2890, 2930, 2970, 3010, 3050, 3090, 4300, 4380, 4460, 4540, 4620, 4660]],
  [0.18, [2850, 2900, 2950, 3000, 3050, 3100, 3150, 3200, 3250, 3300, 3350, 3400, 3450, 3500, 3550, 3600, 4250, 4290, 4330, 4370, 4410, 4450, 4490, 4530, 4570, 4610, 4650]],
  [0.2, [3300, 3350, 3400, 3450, 3500, 3550, 3600, 3650, 3700, 3750]],
  [0.28, [2650, 2680, 2710, 2740, 2770, 2800, 2830, 2860, 2890, 2920, 2950]],
  [0.24, [2700, 2760, 2820, 2880, 2940, 4250, 4330, 4420, 4500, 4560]],
  [0.27, [4200, 4230, 4260, 4290, 4390, 4430, 4470, 4510, 4550, 4590]],
  [0.1, [4270, 4310, 4350, 4390, 4430, 4470, 4510, 4550, 4590, 4630, 4670, 4720, 4800]],
  [1.75, [2620, 2650, 2680, 2710, 2790, 2820, 2850, 2920, 2950, 2980, 3030, 3060, 3090, 3130, 3160, 3330, 3900]],
  [1.72, [2640, 2700, 2800, 2860, 2940, 3000, 3100, 3320]],
  [1.6, [2660, 2700, 2740, 2780, 2820, 2860, 2900, 3020, 3060, 3100, 3150, 3200, 3830, 3870, 3910, 3950, 4000, 4050, 4130, 4170, 4200]],
  [1.57, [2680, 2750, 2850, 4210, 4440]],
  [1.5, [2620, 2700, 2800, 2920, 3000, 3100]],
];
const spPts: P[] = [
  [2150, 0.4], [2130, 0.35], [2100, 0.3], [2180, 0.45], [2120, 0.6], [2140, 0.55], [2160, 0.7], [2200, 0.65],
  [2300, 0.4], [2350, 0.5], [2400, 0.42], [2450, 0.38], [2480, 0.55], [2350, 0.62], [2420, 0.7], [2500, 0.68],
  [2550, 0.6], [2600, 0.5], [2650, 0.4], [2700, 1.2], [2730, 1.3], [2760, 1.0], [2800, 1.1], [2830, 1.25],
  [2870, 1.35], [2900, 1.05], [2950, 1.2], [2980, 1.0], [3000, 0.95], [3050, 1.1], [3100, 1.2], [3150, 1.25],
  [3200, 1.3], [3250, 1.15], [2750, 0.95], [2850, 0.92], [3050, 0.9], [3300, 1.1], [3000, 1.45], [2700, 1.45],
  [2750, 0.6], [2850, 0.55], [3100, 0.45], [3200, 0.75], [3500, 0.6], [3700, 0.45], [3720, 0.75], [3800, 1.25],
  [3850, 0.95], [3900, 0.7], [3950, 0.5], [4000, 0.35], [4100, 1.05], [4150, 0.9], [4170, 1.15], [4200, 1.3],
  [4150, 1.5], [4400, 0.9], [3700, 0.55], [3950, 0.27], [4050, 0.3], [4750, 0.15], [2000, 0.1], [1950, 0.15],
  [3950, 1.72],
];
const spLine: P[] = [
  [1819, 0.027], [1966, 0.205], [2177, 0.473], [2387, 0.582], [2514, 0.634], [2640, 0.712], [2674, 0.795],
  [2808, 0.692], [2977, 0.839], [3145, 0.65], [3314, 0.479], [3419, 0.462], [3651, 0.541], [3861, 0.452],
  [4029, 0.438], [4324, 0.342], [4577, 0.205], [4821, 0.017],
];

const fromRows = (rows: Row[]): P[] => rows.flatMap(([y, xs]) => xs.map((x) => [x, y] as P));

const titles = ['wti_future', 'wti_spot', 'bdi', 'dollar_index', 'gas', 'libor', 'production', 'soybean', 'sp'];
const xDomains: P[] = [[-45.6, 131.8], [2.7, 132.5], [60, 5844], [87.73, 104.8], [1.152, 7.646], [-0.022, 2.9], [8259, 13716], [736.8, 1791.6], [1678, 4952]];
const yDomains: P[] = [[-56.1, 73.4], [-14.1, 23.9], [-4.26, 1.57], [-0.287, 0.0052], [-0.316, 0.4657], [-0.608, 1.336], [-0.511, 0.478], [-1.36, 5.32], [-0.062, 1.857]];
const xTicks: number[][] = [[0, 50, 100], [25, 50, 75, 100, 125], [1000, 2000, 3000, 4000, 5000], [90, 95, 100], [2, 4, 6], [0, 0.5, 1, 1.5, 2, 2.5], [9000, 10000, 11000, 12000, 13000], [800, 1000, 1200, 1400, 1600], [2000, 3000, 4000]];
const yTicks: number[][] = [[-40, -20, 0, 20, 40, 60], [-10, 0, 10, 20], [-4, -3, -2, -1, 0, 1], [-0.25, -0.2, -0.15, -0.1, -0.05, 0], [-0.2, 0, 0.2, 0.4], [-0.5, 0, 0.5, 1], [-0.4, -0.2, 0, 0.2, 0.4], [-1, 0, 1, 2, 3, 4, 5], [0, 0.5, 1, 1.5]];
const xDecimals = [0, 0, 0, 0, 0, 1, 0, 0, 0];
const yDecimals = [0, 0, 0, 2, 1, 1, 1, 0, 1];
const yLabelX = [19, 10, 16];

const points: P[][] = [
  [...wtiFuturePts, ...wtiFutureDense],
  [...wtiSpotPts, ...wtiSpotDense],
  [...bdiPts, ...bdiDense],
  [...fromRows(dollarRows), ...dollarPts],
  [...fromRows(gasRows), ...gasPts],
  [...liborPts, ...liborDense],
  [...productionPts, ...productionDense],
  [...fromRows(soybeanRows), ...soybeanPts],
  [...fromRows(spRows), ...spPts],
];
const lines: P[][] = [wtiFutureLine, wtiSpotLine, bdiLine, dollarLine, gasLine, liborLine, productionLine, soybeanLine, spLine];

const colLeft = [53.5, 353.5, 653.5];
const rowTop = [24, 266, 508];
const W = 261;
const H = 187;
const FONT = "'Liberation Serif', 'Times New Roman', 'DejaVu Serif', serif";
const DOT = '#3f6fa8';
const RED = '#e14b4f';

const fmt = (v: number, d: number) => v.toFixed(d);

function Panel({ i }: { i: number }) {
  const row = Math.floor(i / 3);
  const left = colLeft[i % 3];
  const top = rowTop[row];
  const x = d3.scaleLinear().domain(xDomains[i]).range([0, W]);
  const y = d3.scaleLinear().domain(yDomains[i]).range([H, 0]);
  const line = d3.line<P>().x((d) => x(d[0])).y((d) => y(d[1])).curve(d3.curveMonotoneX);
  const textStyle = { fontFamily: FONT };

  return (
    <g transform={`translate(${left},${top})`}>
      <text x={W / 2} y={-12} textAnchor="middle" fontWeight="bold" fontSize={15} fill="#222" style={textStyle}>{titles[i]}</text>
      <line x1={0} x2={W} y1={y(0)} y2={y(0)} stroke="#b5b5b5" strokeWidth={1} />
      {points[i].map((d, k) => (
        <circle key={k} cx={x(d[0])} cy={y(d[1])} r={2.7} fill={DOT} fillOpacity={0.36} />
      ))}
      <path d={line(lines[i]) ?? ''} fill="none" stroke={RED} strokeWidth={2.7} strokeLinejoin="round" strokeLinecap="round" />
      <line x1={0} x2={0} y1={0} y2={H} stroke="#555" strokeWidth={1.25} />
      <line x1={0} x2={W} y1={H} y2={H} stroke="#555" strokeWidth={1.25} />
      {yTicks[i].map((t) => (
        <text key={t} x={-5} y={y(t)} dy="0.34em" textAnchor="end" fontSize={13.5} fill="#333" style={textStyle}>{fmt(t, yDecimals[i])}</text>
      ))}
      {xTicks[i].map((t) => (
        <text key={t} x={x(t)} y={H + 15} textAnchor="middle" fontSize={13.5} fill="#333" style={textStyle}>{fmt(t, xDecimals[i])}</text>
      ))}
      {i % 3 === 0 && (
        <text transform={`translate(${yLabelX[row] - left},${H / 2}) rotate(-90)`} textAnchor="middle" dy="0.35em" fontSize={15} fill="#222" style={textStyle}>SHAP Value</text>
      )}
    </g>
  );
}

export default function App() {
  return (
    <svg width={922} height={712} style={{ position: 'absolute', left: 0, top: 0, background: '#fff', fontFamily: FONT }}>
      {titles.map((_, i) => <Panel key={i} i={i} />)}
    </svg>
  );
}
